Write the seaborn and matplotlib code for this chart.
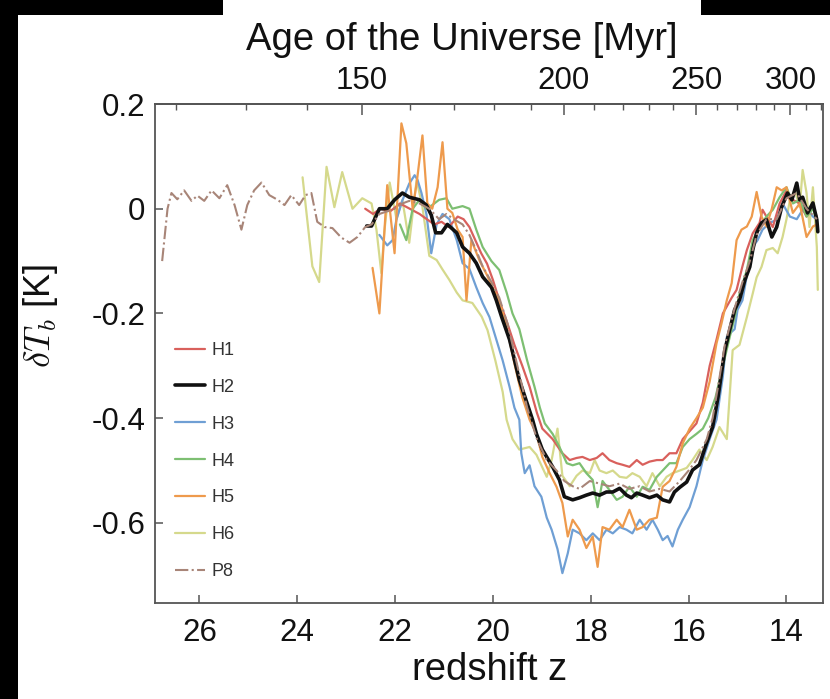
import numpy as np
import pandas as pd
import matplotlib
matplotlib.use("Agg")
import matplotlib.pyplot as plt
import seaborn as sns
from matplotlib.patches import Rectangle

# ---------------- data ----------------
H1_z = [22.61, 22.45, 22.30, 22.10, 21.90, 21.70, 21.50, 21.35, 21.20, 21.05,
        20.90, 20.72, 20.60, 20.48, 20.36, 20.24, 20.12, 20.00, 19.87, 19.70,
        19.56, 19.40, 19.25, 19.10, 18.99, 18.78, 18.58, 18.43, 18.29, 18.17,
        18.02, 17.88, 17.76, 17.62, 17.47, 17.35, 17.21, 17.06, 16.94, 16.80,
        16.65, 16.53, 16.39, 16.25, 16.12, 15.98, 15.84, 15.71, 15.57, 15.43,
        15.30, 15.12, 15.02, 14.90, 14.81, 14.69, 14.55, 14.49, 14.41, 14.28,
        14.14, 14.00, 13.87, 13.73, 13.59, 13.46, 13.38]
H1_v = [0.000, -0.010, 0.000, -0.005, 0.010, 0.000, -0.010, -0.020, -0.030, -0.025,
        -0.035, -0.015, -0.020, -0.035, -0.060, -0.085, -0.105, -0.136, -0.175, -0.220,
        -0.260, -0.300, -0.340, -0.390, -0.420, -0.440, -0.467, -0.480, -0.476, -0.474,
        -0.480, -0.476, -0.467, -0.480, -0.486, -0.489, -0.493, -0.480, -0.489, -0.483,
        -0.480, -0.480, -0.467, -0.467, -0.440, -0.425, -0.410, -0.370, -0.300, -0.250,
        -0.200, -0.170, -0.155, -0.110, -0.079, -0.047, -0.027, -0.002, -0.015, -0.035,
        0.010, 0.035, 0.017, 0.010, -0.015, 0.003, -0.015]

H2_z = [22.58, 22.48, 22.32, 22.16, 22.01, 21.85, 21.71, 21.50, 21.36, 21.26,
        21.17, 21.05, 20.93, 20.74, 20.62, 20.48, 20.34, 20.21, 20.03, 19.93,
        19.82, 19.66, 19.46, 19.19, 19.11, 18.99, 18.78, 18.64, 18.54, 18.37,
        18.23, 18.09, 17.96, 17.82, 17.68, 17.55, 17.41, 17.27, 17.17, 17.06,
        16.94, 16.80, 16.65, 16.53, 16.39, 16.29, 16.18, 16.04, 15.92, 15.78,
        15.63, 15.51, 15.40, 15.26, 15.16, 15.06, 14.96, 14.85, 14.75, 14.69,
        14.61, 14.51, 14.41, 14.30, 14.20, 14.10, 13.98, 13.89, 13.79, 13.73,
        13.67, 13.57, 13.46, 13.38, 13.36]
H2_v = [-0.033, -0.033, 0.000, 0.000, 0.017, 0.030, 0.022, 0.017, 0.007, -0.012,
        -0.046, -0.046, -0.030, -0.046, -0.073, -0.085, -0.104, -0.130, -0.150, -0.175,
        -0.207, -0.250, -0.327, -0.403, -0.430, -0.460, -0.493, -0.518, -0.550, -0.556,
        -0.552, -0.547, -0.543, -0.547, -0.541, -0.541, -0.534, -0.547, -0.552, -0.543,
        -0.547, -0.552, -0.547, -0.556, -0.560, -0.541, -0.532, -0.522, -0.499, -0.489,
        -0.447, -0.417, -0.360, -0.270, -0.231, -0.193, -0.174, -0.136, -0.111, -0.079,
        -0.046, -0.027, -0.021, -0.054, -0.035, 0.003, 0.030, 0.017, 0.049, 0.017,
        0.022, -0.008, 0.011, -0.021, -0.044]

H3_z = [22.32, 22.16, 22.05, 21.97, 21.85, 21.71, 21.60, 21.54, 21.46, 21.36,
        21.26, 21.15, 21.03, 20.89, 20.74, 20.62, 20.48, 20.34, 20.21, 20.07,
        19.93, 19.80, 19.66, 19.56, 19.46, 19.42, 19.35, 19.25, 19.15, 19.01,
        18.90, 18.80, 18.68, 18.58, 18.47, 18.37, 18.23, 18.09, 17.96, 17.82,
        17.68, 17.55, 17.41, 17.27, 17.15, 17.00, 16.86, 16.74, 16.63, 16.53,
        16.43, 16.33, 16.22, 16.12, 15.98, 15.84, 15.71, 15.57, 15.43, 15.30,
        15.22, 15.12, 15.06, 15.00, 14.90, 14.79, 14.69, 14.59, 14.49, 14.34,
        14.20, 14.08, 13.93, 13.79, 13.69, 13.59, 13.46, 13.38]
H3_v = [-0.050, -0.070, -0.060, -0.020, 0.016, 0.048, 0.064, 0.055, 0.030, -0.010,
        -0.085, -0.030, -0.010, -0.020, -0.060, -0.104, -0.115, -0.150, -0.180, -0.207,
        -0.250, -0.290, -0.340, -0.380, -0.403, -0.467, -0.505, -0.490, -0.530, -0.550,
        -0.590, -0.613, -0.650, -0.696, -0.658, -0.613, -0.620, -0.633, -0.620, -0.633,
        -0.613, -0.620, -0.608, -0.613, -0.620, -0.594, -0.613, -0.594, -0.613, -0.633,
        -0.625, -0.645, -0.613, -0.594, -0.570, -0.530, -0.480, -0.440, -0.403, -0.320,
        -0.245, -0.235, -0.230, -0.193, -0.175, -0.117, -0.073, -0.060, -0.040, -0.027,
        -0.021, 0.010, -0.015, -0.020, -0.005, 0.003, -0.015, -0.020]

H4_z = [21.90, 21.77, 21.64, 21.50, 21.36, 21.24, 21.10, 20.95, 20.83, 20.62,
        20.48, 20.34, 20.21, 20.03, 19.87, 19.72, 19.60, 19.46, 19.30, 19.15,
        19.04, 18.94, 18.78, 18.64, 18.49, 18.37, 18.23, 18.09, 17.96, 17.86,
        17.76, 17.62, 17.47, 17.35, 17.21, 17.06, 16.94, 16.80, 16.65, 16.53,
        16.39, 16.25, 16.12, 15.98, 15.84, 15.71, 15.60, 15.45, 15.30, 15.16,
        15.06, 14.96, 14.81, 14.69, 14.55, 14.41, 14.28, 14.14, 14.00, 13.87,
        13.73, 13.59, 13.46, 13.38]
H4_v = [-0.030, -0.060, 0.000, 0.017, 0.000, 0.007, 0.017, 0.020, 0.000, 0.005,
        0.000, -0.040, -0.073, -0.100, -0.117, -0.160, -0.200, -0.230, -0.290, -0.340,
        -0.380, -0.410, -0.430, -0.455, -0.486, -0.490, -0.486, -0.505, -0.518, -0.570,
        -0.520, -0.537, -0.556, -0.550, -0.531, -0.550, -0.531, -0.537, -0.512, -0.500,
        -0.486, -0.486, -0.455, -0.440, -0.430, -0.420, -0.400, -0.360, -0.300, -0.245,
        -0.207, -0.162, -0.117, -0.060, -0.035, -0.015, -0.002, 0.022, 0.041, 0.010,
        0.017, -0.015, 0.000, -0.020]

H5_z = [22.46, 22.32, 22.16, 22.01, 21.87, 21.77, 21.64, 21.56, 21.44, 21.34,
        21.24, 21.13, 21.03, 20.93, 20.83, 20.72, 20.62, 20.54, 20.44, 20.27,
        20.13, 20.01, 19.87, 19.72, 19.55, 19.40, 19.25, 19.11, 18.99, 18.84,
        18.70, 18.58, 18.47, 18.37, 18.23, 18.09, 17.96, 17.86, 17.76, 17.62,
        17.47, 17.35, 17.21, 17.06, 16.94, 16.80, 16.65, 16.53, 16.39, 16.25,
        16.12, 15.98, 15.84, 15.71, 15.57, 15.43, 15.33, 15.22, 15.12, 15.02,
        14.92, 14.81, 14.71, 14.61, 14.51, 14.41, 14.30, 14.20, 14.10, 14.00,
        13.87, 13.73, 13.59, 13.46, 13.38]
H5_v = [-0.113, -0.200, 0.045, -0.085, 0.163, 0.125, 0.000, 0.048, 0.140, 0.010,
        0.000, 0.041, 0.127, 0.000, -0.008, -0.040, -0.054, -0.175, -0.060, -0.100,
        -0.125, -0.150, -0.175, -0.226, -0.300, -0.360, -0.403, -0.430, -0.474, -0.505,
        -0.531, -0.562, -0.626, -0.594, -0.613, -0.648, -0.626, -0.684, -0.608, -0.613,
        -0.594, -0.608, -0.575, -0.613, -0.608, -0.594, -0.590, -0.531, -0.520, -0.493,
        -0.448, -0.420, -0.400, -0.380, -0.330, -0.257, -0.220, -0.175, -0.142, -0.060,
        -0.040, -0.034, -0.015, 0.032, -0.015, -0.034, 0.000, 0.041, 0.035, 0.041,
        -0.008, 0.010, -0.054, -0.034, -0.030]

H6_z = [23.89, 23.69, 23.55, 23.40, 23.24, 23.08, 22.87, 22.67, 22.48, 22.38,
        22.28, 22.22, 22.11, 21.97, 21.85, 21.71, 21.56, 21.44, 21.30, 21.15,
        21.03, 20.89, 20.74, 20.62, 20.42, 20.23, 20.11, 19.95, 19.80, 19.72,
        19.60, 19.46, 19.25, 19.11, 18.90, 18.80, 18.68, 18.58, 18.43, 18.29,
        18.17, 18.02, 17.92, 17.82, 17.68, 17.55, 17.41, 17.27, 17.15, 17.00,
        16.86, 16.74, 16.59, 16.45, 16.33, 16.18, 16.04, 15.92, 15.78, 15.63,
        15.51, 15.37, 15.22, 15.10, 14.96, 14.81, 14.69, 14.61, 14.51, 14.41,
        14.28, 14.18, 14.08, 14.00, 13.93, 13.83, 13.73, 13.67, 13.59, 13.53,
        13.46, 13.38, 13.36]
H6_v = [0.060, -0.110, -0.140, 0.080, 0.003, 0.070, 0.000, 0.020, 0.010, -0.040,
        -0.123, -0.045, 0.050, -0.020, 0.017, -0.065, 0.055, 0.003, -0.090, -0.098,
        -0.116, -0.136, -0.160, -0.175, -0.180, -0.206, -0.232, -0.290, -0.350, -0.403,
        -0.440, -0.460, -0.455, -0.470, -0.512, -0.480, -0.420, -0.510, -0.530, -0.510,
        -0.500, -0.505, -0.480, -0.500, -0.505, -0.500, -0.512, -0.514, -0.505, -0.512,
        -0.530, -0.505, -0.530, -0.512, -0.505, -0.500, -0.495, -0.480, -0.460, -0.480,
        -0.455, -0.417, -0.440, -0.270, -0.260, -0.207, -0.162, -0.131, -0.111, -0.079,
        -0.075, -0.085, -0.054, -0.020, 0.017, 0.035, 0.003, 0.074, 0.030, -0.035,
        0.041, -0.073, -0.155]

P8_z = [26.76, 26.65, 26.57, 26.45, 26.31, 26.16, 26.04, 25.90, 25.75, 25.59,
        25.43, 25.28, 25.14, 25.02, 24.88, 24.73, 24.57, 24.40, 24.26, 24.12,
        23.96, 23.83, 23.71, 23.59, 23.44, 23.28, 23.10, 22.93, 22.77, 22.61,
        22.48, 22.32, 22.16, 22.01, 21.85, 21.71, 21.50, 21.30, 21.10, 20.95,
        20.80, 20.62, 20.48, 20.34, 20.21, 20.03, 19.87, 19.70, 19.50, 19.30,
        19.10, 18.90, 18.70, 18.54, 18.37, 18.23, 18.02, 17.82, 17.62, 17.41,
        17.21, 17.00, 16.80, 16.59, 16.39, 16.18, 16.00, 15.84, 15.63, 15.51,
        15.40, 15.26, 15.06, 14.90, 14.75, 14.61, 14.41, 14.20, 14.00, 13.79,
        13.59, 13.38]
P8_v = [-0.100, 0.000, 0.030, 0.018, 0.035, 0.015, 0.025, 0.015, 0.035, 0.020,
        0.045, 0.007, -0.040, 0.007, 0.035, 0.050, 0.026, 0.017, 0.007, 0.026,
        0.007, 0.026, 0.030, -0.025, -0.035, -0.037, -0.055, -0.065, -0.054, -0.035,
        -0.030, -0.010, -0.005, 0.000, 0.010, 0.015, 0.010, 0.000, -0.020, -0.010,
        -0.020, -0.030, -0.050, -0.080, -0.110, -0.140, -0.170, -0.220, -0.300, -0.380,
        -0.440, -0.480, -0.500, -0.520, -0.530, -0.535, -0.520, -0.525, -0.530, -0.525,
        -0.535, -0.530, -0.540, -0.535, -0.540, -0.520, -0.500, -0.480, -0.440, -0.400,
        -0.340, -0.260, -0.190, -0.140, -0.100, -0.050, -0.020, -0.020, 0.020, 0.030,
        0.000, -0.020]

z_ticks = [26, 24, 22, 20, 18, 16, 14]
y_ticks = [0.2, 0, -0.2, -0.4, -0.6]
y_ticklabels = ["0.2", "0", "-0.2", "-0.4", "-0.6"]
age_major = [150, 200, 250, 300]
age_minor = list(range(120, 330, 10))

# ---------------- style ----------------
sns.set_theme(style="white")
plt.rcParams["font.family"] = ["Liberation Sans", "DejaVu Sans"]
plt.rcParams["mathtext.fontset"] = "cm"

W, H = 830, 699
fig = plt.figure(figsize=(W / 100, H / 100), dpi=100)
fig.patch.set_facecolor("white")
ax_l, ax_r, ax_t, ax_b = 155.3, 822.7, 104.0, 603.0
ax = fig.add_axes([ax_l / W, 1 - ax_b / H, (ax_r - ax_l) / W, (ax_b - ax_t) / H])

series = [
    ("H1", H1_z, H1_v, "#d9605c", 1.6, "-"),
    ("H2", H2_z, H2_v, "#111111", 2.6, "-"),
    ("H3", H3_z, H3_v, "#6f9fd4", 1.6, "-"),
    ("H4", H4_z, H4_v, "#7dbf72", 1.6, "-"),
    ("H5", H5_z, H5_v, "#ee9a4c", 1.6, "-"),
    ("H6", H6_z, H6_v, "#d5d98c", 1.6, "-"),
    ("P8", P8_z, P8_v, "#a88578", 1.5, "-."),
]
zorders = {"H1": 3, "H2": 8, "H3": 2, "H4": 4, "H5": 5, "H6": 1, "P8": 9}
for name, zz, vv, col, lw, ls in series:
    df = pd.DataFrame({"z": zz, "v": vv})
    sns.lineplot(data=df, x="z", y="v", ax=ax, color=col, lw=lw, linestyle=ls,
                 sort=False, estimator=None, label=name, zorder=zorders[name])

ax.set_xlim(26.9, 13.26)
ax.set_ylim(-0.753, 0.2)
ax.set_xticks(z_ticks)
ax.set_xticklabels([str(t) for t in z_ticks])
ax.set_yticks(y_ticks)
ax.set_yticklabels(y_ticklabels)
ax.set_xlabel("")
ax.set_ylabel("")

spine_col = "#555555"
for s in ax.spines.values():
    s.set_color(spine_col)
    s.set_linewidth(1.3)
ax.tick_params(axis="both", which="both", direction="in", color=spine_col,
               labelsize=22.5, labelcolor="#111111")
ax.tick_params(axis="x", length=6, width=1.1, pad=11, bottom=True, top=False)
ax.tick_params(axis="y", length=6, width=1.1, pad=7, left=True, right=False)

# top axis: age of the universe (matter-dominated t ~ (1+z)^-1.5)
C_AGE = 17290.0
def z2t(z):
    z = np.asarray(z, dtype=float)
    return C_AGE * np.power(np.clip(1 + z, 1e-3, None), -1.5)
def t2z(t):
    t = np.asarray(t, dtype=float)
    return np.power(C_AGE / np.clip(t, 1e-3, None), 2.0 / 3.0) - 1
sec = ax.secondary_xaxis("top", functions=(z2t, t2z))
sec.set_xticks(age_major)
sec.set_xticklabels([str(a) for a in age_major])
sec.set_xticks(age_minor, minor=True)
sec.tick_params(axis="x", which="major", direction="in", length=8, width=1.1,
                color=spine_col, labelsize=22.5, labelcolor="#111111", pad=6)
sec.tick_params(axis="x", which="minor", direction="in", length=4.5, width=1.0,
                color=spine_col)
sec.spines["top"].set_color(spine_col)
sec.spines["top"].set_linewidth(1.3)

leg = ax.legend(loc="center left",
                bbox_to_anchor=((175 - ax_l) / (ax_r - ax_l), (ax_b - 461) / (ax_b - ax_t)),
                frameon=False, fontsize=13, handlelength=1.65, handletextpad=0.35,
                labelspacing=1.1, borderpad=0, borderaxespad=0)
for t in leg.get_texts():
    t.set_color("#333333")

fig.text(462 / W, 1 - 40 / H, "Age of the Universe [Myr]", ha="center", va="center",
         fontsize=27.5, color="#111111")
fig.text(490 / W, 1 - 670 / H, "redshift z", ha="center", va="center",
         fontsize=27.5, color="#111111")
fig.text(41 / W, 1 - 316 / H, r"$\delta T_b$ [K]", ha="center", va="center",
         rotation=90, fontsize=26, color="#111111")

# black screenshot borders
for (x0, y0, w, h) in [(0, 0, 223, 15), (0, 0, 18, 699), (701, 0, 129, 15)]:
    fig.patches.append(Rectangle((x0 / W, 1 - (y0 + h) / H), w / W, h / H,
                                 transform=fig.transFigure, facecolor="black",
                                 edgecolor="none", zorder=10))

fig.savefig("out.png", dpi=100)
